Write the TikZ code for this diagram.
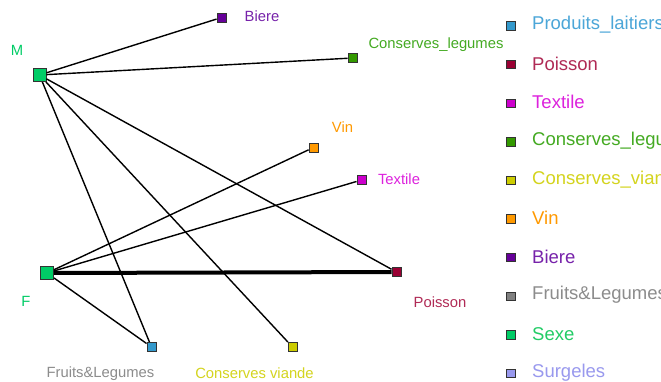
\documentclass[tikz,border=0pt]{standalone}
\usepackage{fontspec}
\setmainfont{Liberation Sans}
\definecolor{cSexe}{HTML}{00CC66}
\definecolor{cBiere}{HTML}{660099}
\definecolor{cBiereT}{HTML}{7722AA}
\definecolor{cCL}{HTML}{339900}
\definecolor{cCLT}{HTML}{44AA22}
\definecolor{cVin}{HTML}{FF9900}
\definecolor{cTex}{HTML}{CC00CC}
\definecolor{cTexT}{HTML}{DD22DD}
\definecolor{cPois}{HTML}{990033}
\definecolor{cPoisT}{HTML}{B02A55}
\definecolor{cFL}{HTML}{3399CC}
\definecolor{cFLT}{HTML}{4BA6D8}
\definecolor{cCV}{HTML}{CCCC00}
\definecolor{cCVT}{HTML}{D4D41E}
\definecolor{cGray}{HTML}{808080}
\definecolor{cGrayT}{HTML}{8C8C8C}
\definecolor{cSurg}{HTML}{9999EE}
\definecolor{cSexeT}{HTML}{22CC66}
\tikzset{
  big/.style={draw=black!80, line width=0.9pt, minimum size=13pt, inner sep=0pt},
  small/.style={draw=black!80, line width=0.9pt, minimum size=9pt, inner sep=0pt},
  lbl/.style={font=\fontsize{14.8}{15}\selectfont, inner sep=0pt},
  leg/.style={font=\fontsize{18.5}{19}\selectfont, inner sep=0pt, anchor=west},
  edge/.style={line width=1.4pt, black},
  thick edge/.style={line width=4pt, black}
}
\begin{document}
\begin{tikzpicture}[x=1pt,y=-1pt]
\useasboundingbox (0,0) rectangle (661,381);
\fill[white] (0,0) rectangle (661,381);
\clip (0,0) rectangle (661,381);
% nodes
\node[big, fill=cSexe] (M) at (39.5,75) {};
\node[big, fill=cSexe] (F) at (47,273) {};
\node[small, fill=cBiere] (B) at (221.5,17.5) {};
\node[small, fill=cCL] (CL) at (352.5,58) {};
\node[small, fill=cVin] (V) at (313.5,147.5) {};
\node[small, fill=cTex] (T) at (361.5,180) {};
\node[small, fill=cPois] (P) at (396.5,272) {};
\node[small, fill=cFL] (FL) at (151.5,347) {};
\node[small, fill=cCV] (CV) at (292.5,347) {};
% labels
\node[lbl, text=cSexe] (lM) at (17,50) {M};
\node[lbl, text=cSexe] (lF) at (26,301) {F};
\node[lbl, text=cBiereT] (lB) at (262,16) {Biere};
\node[lbl, text=cCLT] (lCL) at (436,45) {Conserves\_legumes};
\node[lbl, text=cVin] (lV) at (342.5,127) {Vin};
\node[lbl, text=cTexT] (lT) at (399,179) {Textile};
\node[lbl, text=cPoisT] (lP) at (440,302) {Poisson};
\node[lbl, text=cGrayT] (lFL) at (100.5,373.5) {Fruits\&Legumes};
\node[lbl, text=cCVT] (lCV) at (254.5,373.5) {Conserves viande};
% edges
\draw[edge] (M) -- (B);
\draw[edge] (M) -- (CL);
\draw[edge] (M) -- (P);
\draw[edge] (M) -- (FL);
\draw[edge] (M) -- (CV);
\draw[edge] (F) -- (V);
\draw[edge] (F) -- (T);
\draw[edge] (F) -- (FL);
\draw[thick edge] (F) -- (P);
% legend
\foreach \i/\c/\t/\n in {0/cFL/cFLT/Produits\_laitiers,
  1/cPois/cPoisT/Poisson,
  2/cTex/cTexT/Textile,
  3/cCL/cCLT/Conserves\_legumes,
  4/cCV/cCVT/Conserves\_viande,
  5/cVin/cVin/Vin,
  6/cBiere/cBiereT/Biere,
  7/cGray/cGrayT/Fruits\&Legumes,
  8/cSexe/cSexeT/Sexe,
  9/cSurg/cSurg/Surgeles}{
  \node[small, minimum size=8.5pt, fill=\c] (k\i) at (511, 26+38.6*\i) {};
  \node[leg, text=\t] (kt\i) at (532, 25+38.6*\i) {\n};
}
\end{tikzpicture}
\end{document}
